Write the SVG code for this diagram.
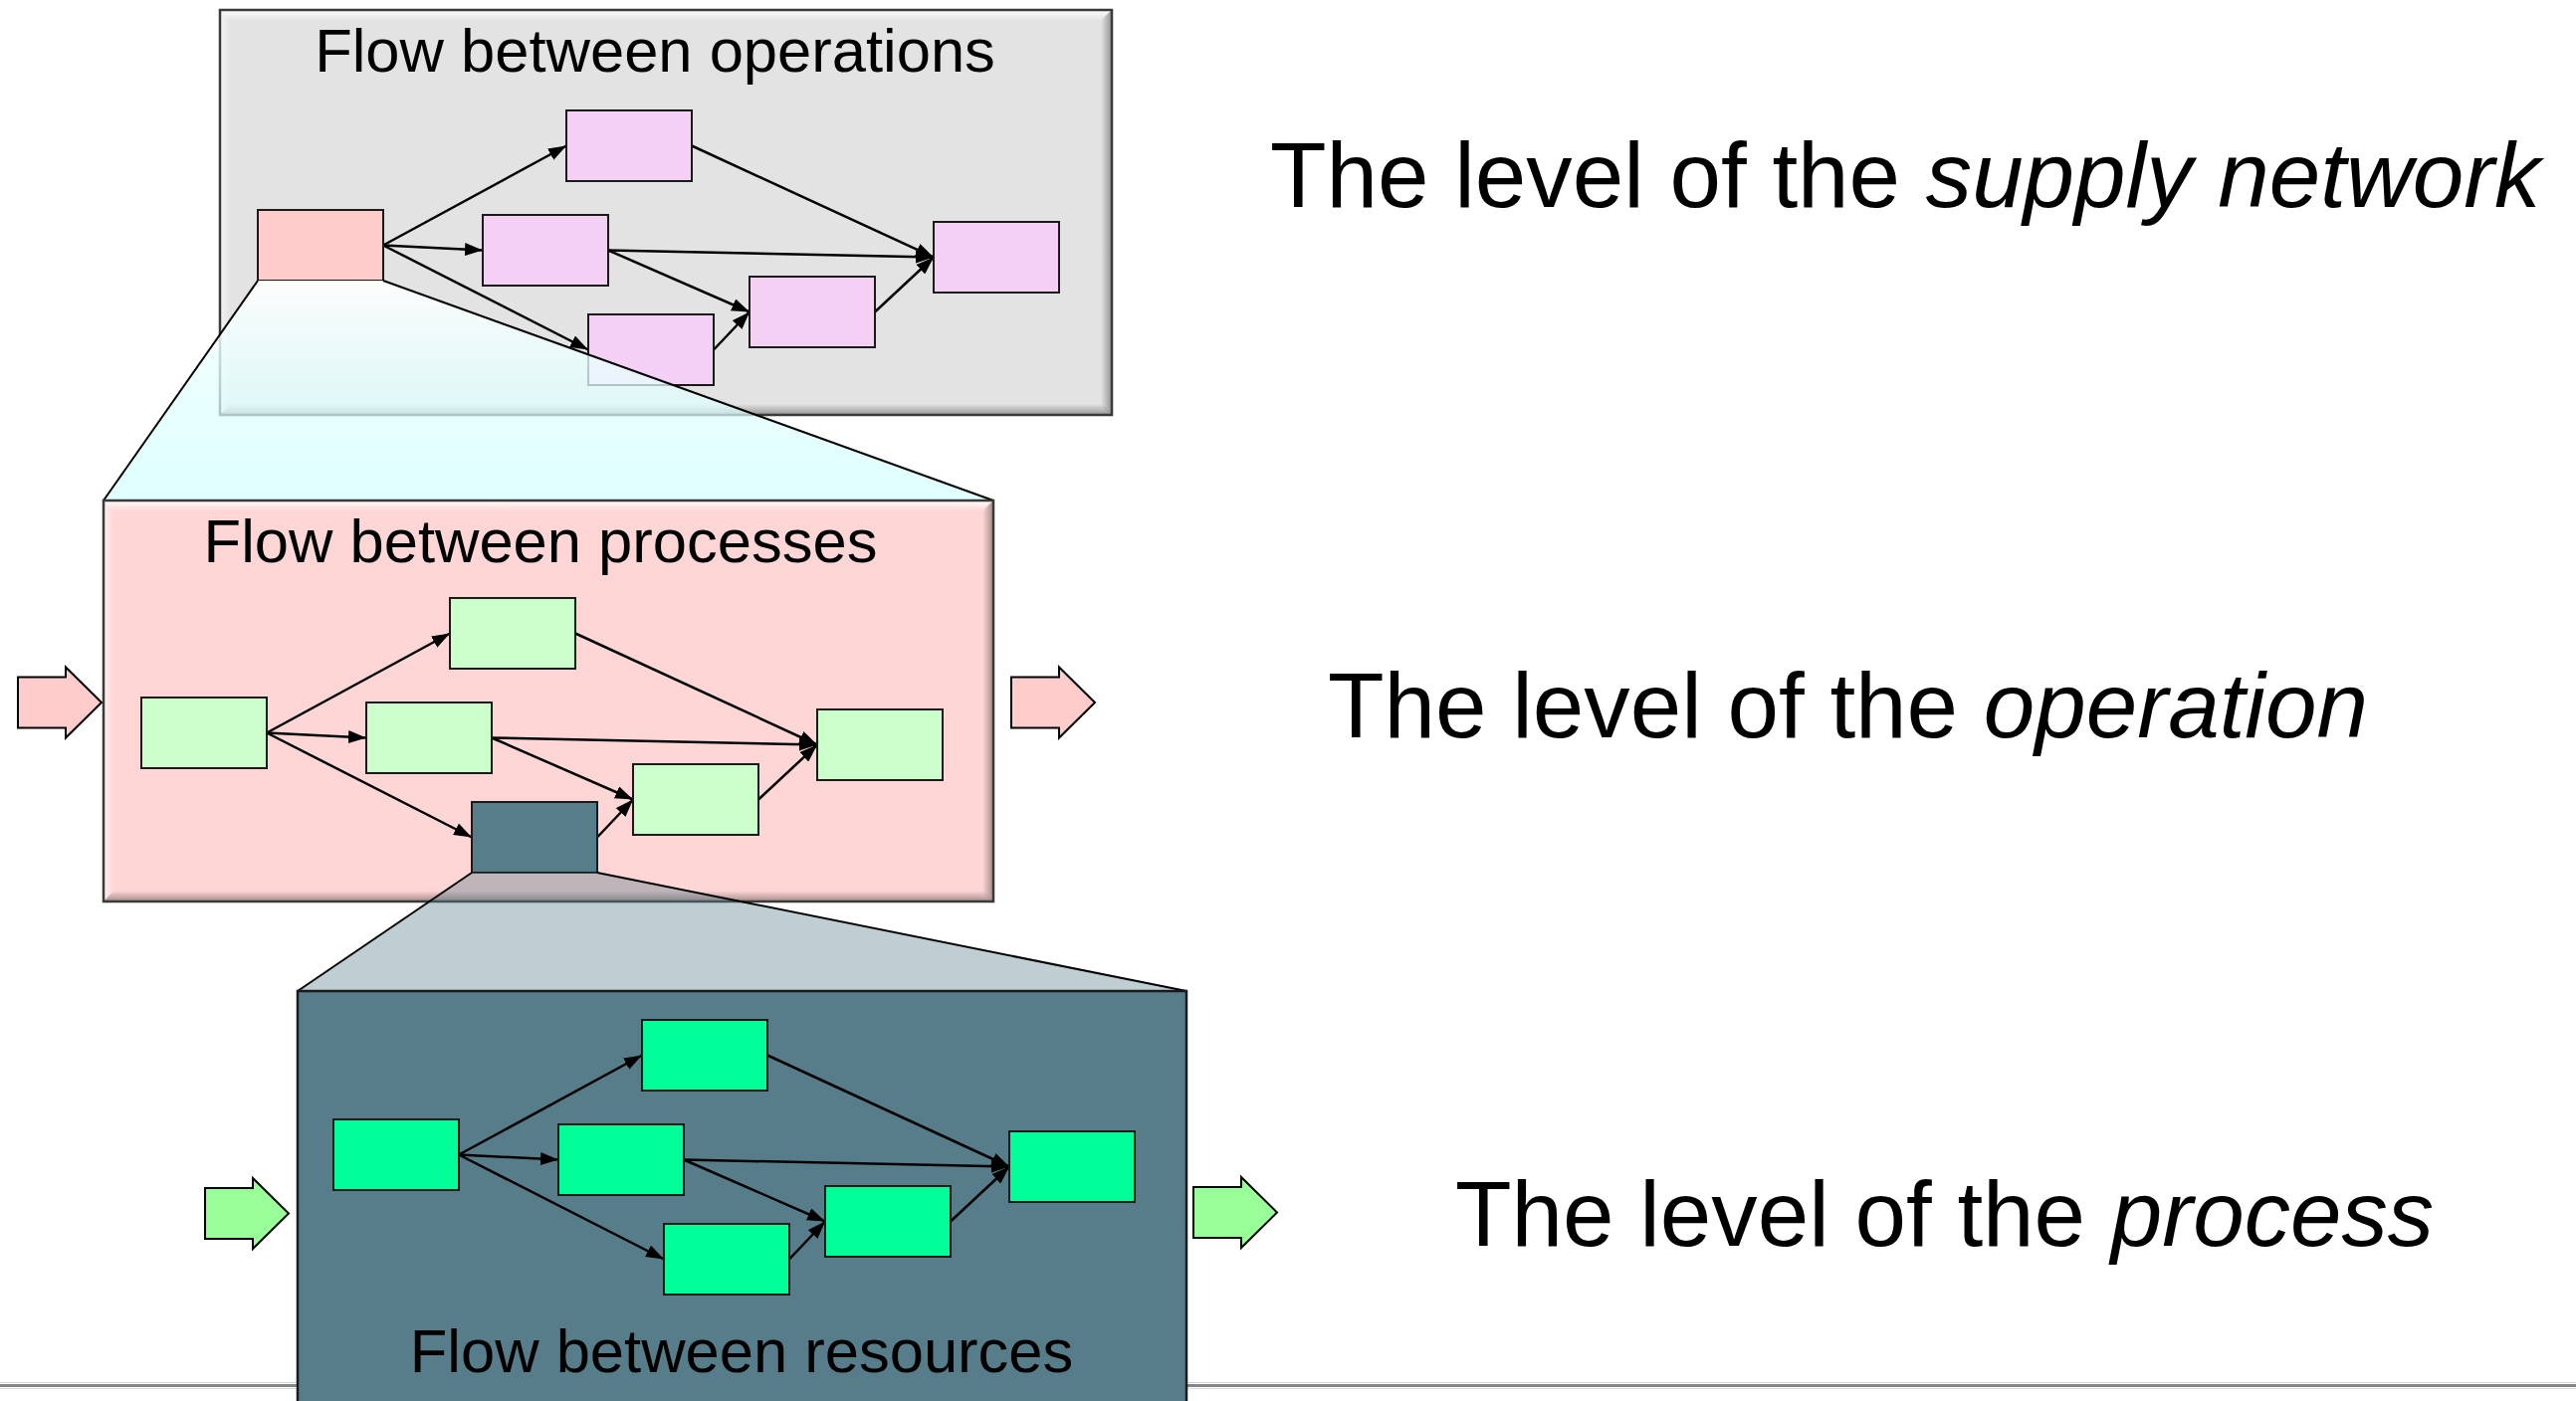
<svg xmlns="http://www.w3.org/2000/svg" width="2588" height="1408" viewBox="0 0 2588 1408">
<defs>
<style>
.edge{stroke:#000;stroke-width:2.5;fill:none;marker-end:url(#ah)}
.nd{stroke:#1a1a1a;stroke-width:2}
.n1{fill:#f5d0f5}
.src1{fill:#ffcccc}
.n2{fill:#ccffcc}
.dark{fill:#577d8a}
.n3{fill:#00ff99}
.frame{fill:none;stroke:#3a3a3a;stroke-width:2.5}
.proj{stroke:#000;stroke-width:2}
.title{font-family:"Liberation Sans",Arial,sans-serif;font-size:61.5px;text-anchor:middle;fill:#000}
.lvl{font-family:"Liberation Sans",Arial,sans-serif;font-size:92.6px;fill:#000}
.sidearrow{stroke:#000;stroke-width:2}
</style>
<marker id="ah" viewBox="0 0 18 13" refX="18" refY="6.5" markerWidth="18" markerHeight="13" markerUnits="userSpaceOnUse" orient="auto">
<path d="M0,0 L18,6.5 L0,13 z" fill="#000"/>
</marker>
<linearGradient id="hlT" x1="0" y1="0" x2="0" y2="1"><stop offset="0" stop-color="#fff" stop-opacity="0.9"/><stop offset="1" stop-color="#fff" stop-opacity="0"/></linearGradient>
<linearGradient id="hlL" x1="0" y1="0" x2="1" y2="0"><stop offset="0" stop-color="#fff" stop-opacity="0.6"/><stop offset="1" stop-color="#fff" stop-opacity="0"/></linearGradient>
<linearGradient id="shB" x1="0" y1="0" x2="0" y2="1"><stop offset="0" stop-color="#000" stop-opacity="0"/><stop offset="1" stop-color="#000" stop-opacity="0.35"/></linearGradient>
<linearGradient id="shR" x1="0" y1="0" x2="1" y2="0"><stop offset="0" stop-color="#000" stop-opacity="0"/><stop offset="1" stop-color="#000" stop-opacity="0.35"/></linearGradient>
<linearGradient id="cyanProj" gradientUnits="userSpaceOnUse" x1="0" y1="282" x2="0" y2="503"><stop offset="0" stop-color="#ffffff" stop-opacity="0.92"/><stop offset="1" stop-color="#c8ffff" stop-opacity="0.56"/></linearGradient>
</defs>

<rect width="2588" height="1408" fill="#fff"/>

<g id="baseline-rule">
<line x1="0" y1="1389.5" x2="2588" y2="1389.5" stroke="#d4d4d4" stroke-width="1"/>
<line x1="0" y1="1392.5" x2="2588" y2="1392.5" stroke="#858585" stroke-width="3"/>
<line x1="0" y1="1395.5" x2="2588" y2="1395.5" stroke="#dcdcdc" stroke-width="1"/>
</g>

<!-- Level 1: supply network -->
<g id="box-operations">
<rect x="221" y="10" width="896" height="407" fill="#e3e3e3"/>
<polygon points="221,10 1117,10 1107,21 231,21" fill="url(#hlT)"/>
<polygon points="221,10 232,20 232,407 221,417" fill="url(#hlL)"/>
<polygon points="221,417 1117,417 1107,406 231,406" fill="url(#shB)"/>
<polygon points="1117,10 1106,20 1106,407 1117,417" fill="url(#shR)"/>
<rect x="221" y="10" width="896" height="407" class="frame"/>
<text class="title" x="658" y="72">Flow between operations</text>
</g>
<g id="net1-connectors" transform="translate(259,211)">
<line class="edge" x1="126" y1="35.5" x2="310" y2="-64.5"/>
<line class="edge" x1="126" y1="35.5" x2="226" y2="40.5"/>
<line class="edge" x1="126" y1="35.5" x2="332" y2="140.5"/>
<line class="edge" x1="436" y1="-64.5" x2="679" y2="47.5"/>
<line class="edge" x1="352" y1="40.5" x2="679" y2="47.5"/>
<line class="edge" x1="352" y1="40.5" x2="494" y2="102.5"/>
<line class="edge" x1="458" y1="140.5" x2="494" y2="102.5"/>
<line class="edge" x1="620" y1="102.5" x2="679" y2="47.5"/>
</g>
<g transform="translate(259,211)">
<g id="op-source"><rect class="nd src1" x="0" y="0" width="126" height="71"/></g>
<g id="op-top"><rect class="nd n1" x="310" y="-100" width="126" height="71"/></g>
<g id="op-mid"><rect class="nd n1" x="226" y="5" width="126" height="71"/></g>
<g id="op-bottom"><rect class="nd n1" x="332" y="105" width="126" height="71"/></g>
<g id="op-lower-right"><rect class="nd n1" x="494" y="67" width="126" height="71"/></g>
<g id="op-right"><rect class="nd n1" x="679" y="12" width="126" height="71"/></g>
</g>

<g id="projection-1">
<polygon points="259,282 385,282 998,503 104,503" fill="url(#cyanProj)"/>
<line class="proj" x1="259" y1="282" x2="104" y2="503"/>
<line class="proj" x1="385" y1="282" x2="998" y2="503"/>
</g>

<!-- Level 2: operation -->
<g id="box-processes">
<rect x="104" y="503" width="894" height="403" fill="#ffd6d6"/>
<polygon points="104,503 998,503 988,514 114,514" fill="url(#hlT)"/>
<polygon points="104,503 115,513 115,896 104,906" fill="url(#hlL)"/>
<polygon points="104,906 998,906 988,895 114,895" fill="url(#shB)"/>
<polygon points="998,503 987,513 987,896 998,906" fill="url(#shR)"/>
<rect x="104" y="503" width="894" height="403" class="frame"/>
<text class="title" x="543" y="565">Flow between processes</text>
</g>
<g id="arrow-in-2" transform="translate(18,670.5)"><polygon class="sidearrow" points="0,10 48,10 48,0 84,35.5 48,71 48,61 0,61" fill="#ffcccc"/></g>
<g id="arrow-out-2" transform="translate(1016,670.5)"><polygon class="sidearrow" points="0,10 48,10 48,0 84,35.5 48,71 48,61 0,61" fill="#ffcccc"/></g>
<g id="net2-connectors" transform="translate(142,701)">
<line class="edge" x1="126" y1="35.5" x2="310" y2="-64.5"/>
<line class="edge" x1="126" y1="35.5" x2="226" y2="40.5"/>
<line class="edge" x1="126" y1="35.5" x2="332" y2="140.5"/>
<line class="edge" x1="436" y1="-64.5" x2="679" y2="47.5"/>
<line class="edge" x1="352" y1="40.5" x2="679" y2="47.5"/>
<line class="edge" x1="352" y1="40.5" x2="494" y2="102.5"/>
<line class="edge" x1="458" y1="140.5" x2="494" y2="102.5"/>
<line class="edge" x1="620" y1="102.5" x2="679" y2="47.5"/>
</g>
<g transform="translate(142,701)">
<g id="pr-source"><rect class="nd n2" x="0" y="0" width="126" height="71"/></g>
<g id="pr-top"><rect class="nd n2" x="310" y="-100" width="126" height="71"/></g>
<g id="pr-mid"><rect class="nd n2" x="226" y="5" width="126" height="71"/></g>
<g id="pr-bottom"><rect class="nd dark" x="332" y="105" width="126" height="71"/></g>
<g id="pr-lower-right"><rect class="nd n2" x="494" y="67" width="126" height="71"/></g>
<g id="pr-right"><rect class="nd n2" x="679" y="12" width="126" height="71"/></g>
</g>

<g id="projection-2">
<polygon points="474,877 600,877 1192,996 299,996" fill="#577d8a" fill-opacity="0.38"/>
<line class="proj" x1="474" y1="877" x2="299" y2="996"/>
<line class="proj" x1="600" y1="877" x2="1192" y2="996"/>
</g>

<!-- Level 3: process -->
<g id="box-resources">
<rect x="299" y="996" width="893" height="430" fill="#577d8a" stroke="#1a1a1a" stroke-width="2.5"/>
<text class="title" x="745" y="1379">Flow between resources</text>
</g>
<g id="arrow-in-3" transform="translate(206,1184)"><polygon class="sidearrow" points="0,10 48,10 48,0 84,35.5 48,71 48,61 0,61" fill="#99ff99"/></g>
<g id="arrow-out-3" transform="translate(1199,1183)"><polygon class="sidearrow" points="0,10 48,10 48,0 84,35.5 48,71 48,61 0,61" fill="#99ff99"/></g>
<g id="net3-connectors" transform="translate(335,1125)">
<line class="edge" x1="126" y1="35.5" x2="310" y2="-64.5"/>
<line class="edge" x1="126" y1="35.5" x2="226" y2="40.5"/>
<line class="edge" x1="126" y1="35.5" x2="332" y2="140.5"/>
<line class="edge" x1="436" y1="-64.5" x2="679" y2="47.5"/>
<line class="edge" x1="352" y1="40.5" x2="679" y2="47.5"/>
<line class="edge" x1="352" y1="40.5" x2="494" y2="102.5"/>
<line class="edge" x1="458" y1="140.5" x2="494" y2="102.5"/>
<line class="edge" x1="620" y1="102.5" x2="679" y2="47.5"/>
</g>
<g transform="translate(335,1125)">
<g id="rs-source"><rect class="nd n3" x="0" y="0" width="126" height="71"/></g>
<g id="rs-top"><rect class="nd n3" x="310" y="-100" width="126" height="71"/></g>
<g id="rs-mid"><rect class="nd n3" x="226" y="5" width="126" height="71"/></g>
<g id="rs-bottom"><rect class="nd n3" x="332" y="105" width="126" height="71"/></g>
<g id="rs-lower-right"><rect class="nd n3" x="494" y="67" width="126" height="71"/></g>
<g id="rs-right"><rect class="nd n3" x="679" y="12" width="126" height="71"/></g>
</g>

<g id="level-labels">
<text class="lvl" x="1276" y="208">The level of the <tspan font-style="italic">supply network</tspan></text>
<text class="lvl" x="1334" y="741">The level of the <tspan font-style="italic">operation</tspan></text>
<text class="lvl" x="1462" y="1252">The level of the <tspan font-style="italic">process</tspan></text>
</g>
</svg>
